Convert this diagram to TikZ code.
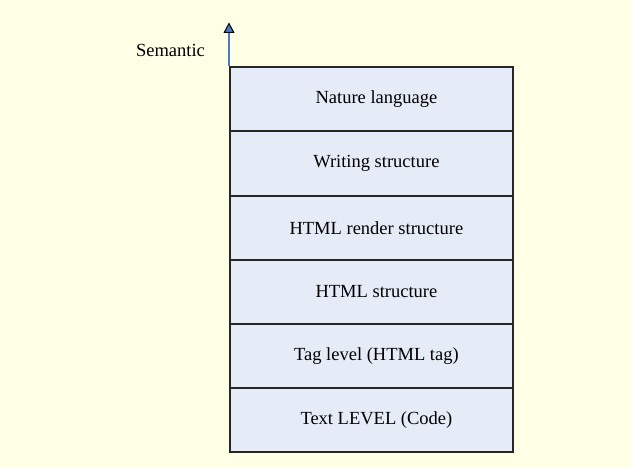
\documentclass[tikz,border=0pt]{standalone}
\usepackage{fontspec}
\setmainfont{Liberation Serif}
\usetikzlibrary{arrows.meta}
\definecolor{bg}{HTML}{FFFFE6}
\definecolor{boxfill}{HTML}{E6ECF7}
\definecolor{arrowblue}{HTML}{4A7CC4}
\begin{document}
\begin{tikzpicture}[x=1pt,y=-1pt,
  layer/.style={draw=black!85,line width=1.8pt,fill=boxfill,minimum width=283pt,minimum height=64pt,inner sep=0pt,anchor=north west},
  ltext/.style={font=\fontsize{18.5}{22}\selectfont},
  lbl/.style={font=\fontsize{18.5}{22}\selectfont}]
\fill[bg] (0,0) rectangle (632,468);
\useasboundingbox (0,0) rectangle (632,468);
\node[layer] (l1) at (229,66.5) {};
\node[layer] (l2) at (229,130.5) {};
\node[layer] (l3) at (229,195) {};
\node[layer] (l4) at (229,259) {};
\node[layer] (l5) at (229,323) {};
\node[layer] (l6) at (229,387) {};
\node[ltext] (t1) at ([xshift=5pt]l1.center) {Nature language};
\node[ltext] (t2) at ([xshift=5pt]l2.center) {Writing structure};
\node[ltext] (t3) at ([xshift=5pt]l3.center) {HTML render structure};
\node[ltext] (t4) at ([xshift=5pt]l4.center) {HTML structure};
\node[ltext] (t5) at ([xshift=5pt]l5.center) {Tag level (HTML tag)};
\node[ltext] (t6) at ([xshift=5pt]l6.center) {Text LEVEL (Code)};
\coordinate (top) at (229,22.5);
\draw[draw=arrowblue,line width=1.4pt,-{Triangle[width=11pt,length=10.5pt,fill=arrowblue,color=black,line width=1pt]}] (l1.north west) -- (top);
\node[lbl] (sem) at (170.5,50) {Semantic};
\end{tikzpicture}
\end{document}
